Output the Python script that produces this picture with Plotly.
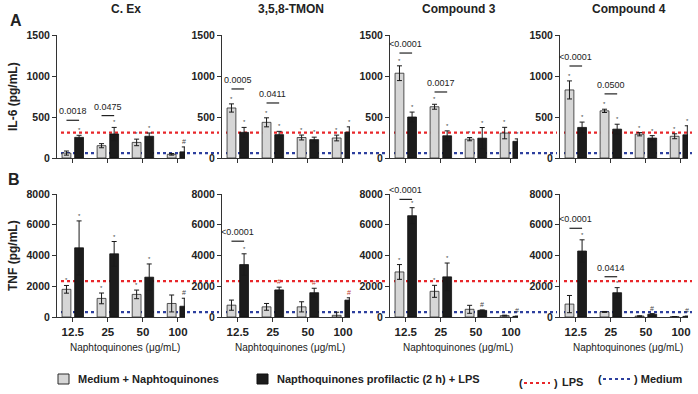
import plotly.graph_objects as go

# ---------------- data ----------------
compounds = ["C. Ex", "3,5,8-TMON", "Compound 3", "Compound 4"]
concentrations = ["12.5", "25", "50", "100"]

# IL-6 (pg/mL): Medium + Naphtoquinones (light) / Naphtoquinones prophylactic + LPS (dark)
il6_light_mean = [[60, 150, 190, 45], [610, 435, 250, 244], [1034, 625, 230, 304], [830, 575, 290, 265]]
il6_light_sem = [[25, 25, 40, 10], [50, 55, 30, 35], [90, 30, 20, 70], [110, 20, 20, 30]]
il6_dark_mean = [[252, 293, 265, 75], [313, 285, 224, 315], [500, 271, 242, 203], [373, 352, 243, 283]]
il6_dark_sem = [[25, 80, 40, 60], [60, 40, 30, 65], [60, 60, 130, 30], [65, 60, 30, 110]]
il6_lps = 310
il6_medium = 60

# TNF (pg/mL)
tnf_light_mean = [[1800, 1210, 1470, 880], [770, 660, 660, 110], [2930, 1670, 500, 90], [840, 330, 60, 20]]
tnf_light_sem = [[250, 350, 280, 550], [330, 220, 330, 200], [480, 390, 260, 30], [560, 30, 20, 10]]
tnf_dark_mean = [[4500, 4110, 2590, 700], [3410, 1760, 1580, 1100], [6590, 2610, 430, 40], [4290, 1580, 180, 40]]
tnf_dark_sem = [[1750, 800, 860, 520], [700, 180, 290, 150], [520, 900, 30, 20], [730, 330, 40, 20]]
tnf_lps = 2330
tnf_medium = 320

# significance brackets: (concentration index, bracket level, p-value)
il6_brackets = [[(0, 460, "0.0018"), (1, 517, "0.0475")],
                [(0, 842, "0.0005"), (1, 671, "0.0411")],
                [(0, 1280, "<0.0001"), (1, 805, "0.0017")],
                [(0, 1122, "<0.0001"), (1, 782, "0.0500")]]
tnf_brackets = [[],
                [(0, 4930, "<0.0001")],
                [(0, 7650, "<0.0001")],
                [(0, 5770, "<0.0001"), (1, 2620, "0.0414")]]

# small marks above bars
il6_light_marks = [["", "", "*", ""], ["*", "*", "*", "*"], ["*", "*", "*", "*"], ["*", "*", "*", "*"]]
il6_dark_marks = [["*", "*", "*", "#"], ["*", "*", "*", "*"], ["*", "*", "*", "*"], ["*", "*", "*", "*"]]
tnf_light_marks = [["*", "*", "*", ""], ["", "", "", ""], ["*", "*", "", ""], ["", "", "", ""]]
tnf_dark_marks = [["*", "*", "*", "#"], ["*", "#", "#", "#"], ["*", "*", "#", "#"], ["*", "*", "#", "#"]]

il6_ticks = [0, 500, 1000, 1500]
tnf_ticks = [0, 2000, 4000, 6000, 8000]

# ---------------- layout geometry ----------------
W, H = 698, 394
col_px = [57, 222, 390, 560]
panel_w = 128
rows_px = [(158, 35), (317, 194)]  # (bottom, top)
FONT = "Liberation Sans, Arial, sans-serif"
LIGHT = "#d6d6d6"
DARK = "#1c1c1c"
EDGE = "#2a2a2a"


def fx(px):
    return px / W


def fy(py):
    return 1 - py / H


def ptext(xp, yp, text, font, xanchor="center", **kw):
    return dict(xref="paper", yref="paper", x=fx(xp), y=fy(yp), text=text,
                showarrow=False, xanchor=xanchor, yanchor="middle", font=font, **kw)


rows = [
    dict(lm=il6_light_mean, ls=il6_light_sem, dm=il6_dark_mean, ds=il6_dark_sem,
         lmk=il6_light_marks, dmk=il6_dark_marks, brk=il6_brackets,
         ticks=il6_ticks, lps=il6_lps, med=il6_medium),
    dict(lm=tnf_light_mean, ls=tnf_light_sem, dm=tnf_dark_mean, ds=tnf_dark_sem,
         lmk=tnf_light_marks, dmk=tnf_dark_marks, brk=tnf_brackets,
         ticks=tnf_ticks, lps=tnf_lps, med=tnf_medium),
]

fig = go.Figure()
layout = {}
annotations = []
shapes = []
xs = list(range(len(concentrations)))
off = 0.18

for r, d in enumerate(rows):
    ymax = d["ticks"][-1]
    for c in range(4):
        n = r * 4 + c + 1
        xa = "x" if n == 1 else f"x{n}"
        ya = "y" if n == 1 else f"y{n}"
        eb = dict(type="data", color="#1a1a1a", thickness=1, width=2.5)
        fig.add_trace(go.Bar(x=xs, y=d["lm"][c], error_y=dict(array=d["ls"][c], **eb),
                             marker=dict(color=LIGHT, line=dict(color=EDGE, width=0.8)),
                             xaxis=xa, yaxis=ya, showlegend=False))
        fig.add_trace(go.Bar(x=xs, y=d["dm"][c], error_y=dict(array=d["ds"][c], **eb),
                             marker=dict(color=DARK, line=dict(color="#111", width=0.8)),
                             xaxis=xa, yaxis=ya, showlegend=False))
        xl = col_px[c]
        layout["xaxis" if n == 1 else f"xaxis{n}"] = dict(
            domain=[fx(xl), fx(xl + panel_w)], range=[-0.45, 3.2], anchor=ya,
            tickmode="array", tickvals=xs, ticktext=concentrations,
            showticklabels=(r == 1), ticks="outside", ticklen=4, tickwidth=1,
            tickcolor="#333", showline=True, linecolor="#333", linewidth=1,
            showgrid=False, zeroline=False, fixedrange=True, automargin=False,
            tickfont=dict(family=FONT, size=11.5, color="#222", weight="bold"))
        bot, top = rows_px[r]
        layout["yaxis" if n == 1 else f"yaxis{n}"] = dict(
            domain=[fy(bot), fy(top)], range=[0, ymax], anchor=xa,
            tickmode="array", tickvals=d["ticks"], ticks="outside", ticklen=4,
            tickwidth=1, tickcolor="#333", showline=True, linecolor="#333",
            linewidth=1, showgrid=False, zeroline=False, fixedrange=True, automargin=False,
            tickfont=dict(family=FONT, size=10.5, color="#222", weight="bold"))

        # reference lines (LPS / Medium)
        x_end = col_px[c + 1] - 3 if c < 3 else 692
        for val, colr in ((d["lps"], "#e8262a"), (d["med"], "#2d3f9e")):
            shapes.append(dict(type="line", xref="paper", yref=ya, layer="below",
                               x0=fx(xl + 4), x1=fx(x_end), y0=val, y1=val,
                               line=dict(color=colr, width=2.2, dash="dot")))

        # significance brackets
        for (gi, lvl, txt) in d["brk"][c]:
            shapes.append(dict(type="line", xref=xa, yref=ya, x0=gi - off, x1=gi + off,
                               y0=lvl, y1=lvl, line=dict(color="#222", width=1.2)))
            annotations.append(dict(xref=xa, yref=ya, x=gi, y=lvl, text=txt,
                                    showarrow=False, xanchor="center", yanchor="middle",
                                    yshift=9, font=dict(family=FONT, size=9, color="#222")))

        # marks above bars
        for mean, sem, marks, sgn in ((d["lm"][c], d["ls"][c], d["lmk"][c], -1),
                                      (d["dm"][c], d["ds"][c], d["dmk"][c], 1)):
            for gi in xs:
                mk = marks[gi]
                if not mk:
                    continue
                colr = "#c0392b" if (mk == "#" and r == 1 and c == 1) else "#444"
                annotations.append(dict(xref=xa, yref=ya, x=gi + sgn * off,
                                        y=mean[gi] + sem[gi], text=mk, showarrow=False,
                                        xanchor="center", yanchor="bottom", yshift=0,
                                        font=dict(family=FONT, size=6 if mk == "*" else 7,
                                                  color=colr)))

        # column titles and x titles
        if r == 0:
            annotations.append(ptext(xl + 69, 9, compounds[c],
                                     dict(family=FONT, size=12, color="#222", weight="bold")))
        else:
            annotations.append(ptext(xl + 68, 347, "Naphtoquinones (μg/mL)",
                                     dict(family=FONT, size=10, color="#222")))

# panel letters, y titles
annotations += [
    ptext(16, 20, "A", dict(family=FONT, size=16, color="#222", weight="bold")),
    ptext(14, 179, "B", dict(family=FONT, size=16, color="#222", weight="bold")),
    ptext(13, 97, "IL-6 (pg/mL)", dict(family=FONT, size=12, color="#222", weight="bold"),
          textangle=-90),
    ptext(13, 256, "TNF (pg/mL)", dict(family=FONT, size=12, color="#222", weight="bold"),
          textangle=-90),
]

# legend (manual)
LF = dict(family=FONT, size=11, color="#222", weight="bold")
shapes += [
    dict(type="rect", xref="paper", yref="paper", x0=fx(58), x1=fx(69), y0=fy(384), y1=fy(374),
         fillcolor=LIGHT, line=dict(color=EDGE, width=1)),
    dict(type="rect", xref="paper", yref="paper", x0=fx(257), x1=fx(268), y0=fy(384), y1=fy(374),
         fillcolor=DARK, line=dict(color="#111", width=1)),
    dict(type="line", xref="paper", yref="paper", x0=fx(524), x1=fx(550), y0=fy(383), y1=fy(383),
         line=dict(color="#e8262a", width=2.2, dash="dot")),
    dict(type="line", xref="paper", yref="paper", x0=fx(603), x1=fx(631), y0=fy(379), y1=fy(379),
         line=dict(color="#2d3f9e", width=2.2, dash="dot")),
]
annotations += [
    ptext(76, 379, "Medium + Naphtoquinones", LF, xanchor="left"),
    ptext(275, 379, "Napthoquinones profilactic (2 h) + LPS", LF, xanchor="left"),
    ptext(517, 383, "(", LF, xanchor="left"),
    ptext(552, 383, ")", LF, xanchor="left"),
    ptext(560, 382, "LPS", LF, xanchor="left"),
    ptext(596, 379, "(", LF, xanchor="left"),
    ptext(632, 379, ") Medium", LF, xanchor="left"),
]

fig.update_layout(
    template="none",
    width=W, height=H, margin=dict(l=0, r=0, t=0, b=0, pad=0, autoexpand=False),
    paper_bgcolor="white", plot_bgcolor="white",
    barmode="group", bargap=0.28, bargroupgap=0.3,
    shapes=shapes, annotations=annotations, **layout)

fig.write_html("out.html", config={"displayModeBar": False})
